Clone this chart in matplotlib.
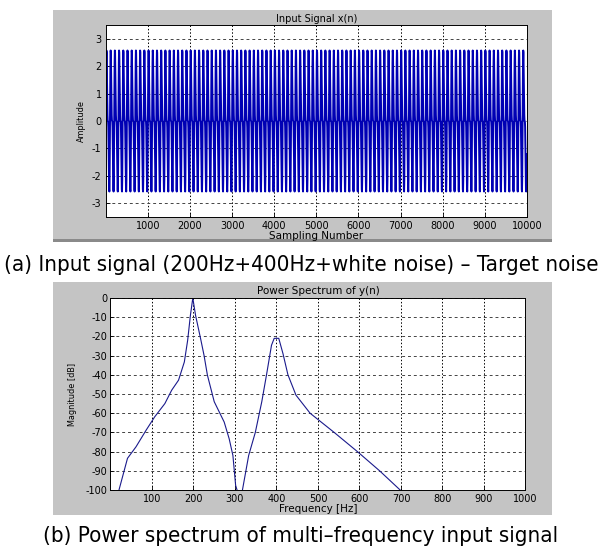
import numpy as np
import matplotlib
matplotlib.use("Agg")
import matplotlib.pyplot as plt
from matplotlib.patches import Rectangle

plt.rcParams["axes.unicode_minus"] = False

# one period of x(n) (200Hz + 400Hz tone)
period_vals = [0.00, 1.21, 2.13, 2.57, 2.49, 2.00, 1.31, 0.67, 0.22, 0.03,
               0.00, -0.03, -0.22, -0.67, -1.31, -2.00, -2.49, -2.57, -2.13, -1.21]
n_periods = 100
n_samples = 10000

# power spectrum of y(n)
spec_freq_1 = [20.5, 41, 61.5, 86, 106.5, 131, 147.5, 164, 178, 186, 192.6, 198.4,
               205, 217, 225.4, 233.6, 250, 274, 286, 295, 301.6, 305]
spec_db_1 = [-100, -83.5, -77.5, -68.8, -61.9, -55, -48, -42.8, -33.3, -22, -9, 0,
             -9, -21, -29.8, -40.2, -54, -64.6, -73.3, -82, -97.6, -100]
spec_freq_2 = [318, 333, 349, 364.6, 376, 388, 394.5, 405.5, 415.7, 427.6, 447, 481,
               539, 595, 648.5, 698]
spec_db_2 = [-100, -82, -70, -54, -40, -24.6, -21, -21, -29, -40, -50.6, -60,
             -70, -80, -90, -100]

top_xticks = [1000, 2000, 3000, 4000, 5000, 6000, 7000, 8000, 9000, 10000]
top_yticks = [-3, -2, -1, 0, 1, 2, 3]
bot_xticks = [100, 200, 300, 400, 500, 600, 700, 800, 900, 1000]
bot_yticks = [-100, -90, -80, -70, -60, -50, -40, -30, -20, -10, 0]

cap_a = "(a) Input signal (200Hz+400Hz+white noise) \u2013 Target noise"
cap_b = "(b) Power spectrum of multi\u2013frequency input signal"

panel_gray = "#c4c4c4"
small = 7

fig = plt.figure(figsize=(6.07, 5.53), dpi=100)
fig.patch.set_facecolor("white")

# gray panels behind each plot
fig.patches.append(Rectangle((0.0873, 0.5624), 0.8227, 0.4195, transform=fig.transFigure,
                             facecolor=panel_gray, edgecolor="none", zorder=-2))
fig.patches.append(Rectangle((0.0873, 0.5624), 0.8227, 0.005, transform=fig.transFigure,
                             facecolor="#8a8a8a", edgecolor="none", zorder=-2))
fig.patches.append(Rectangle((0.0873, 0.0687), 0.8227, 0.4213, transform=fig.transFigure,
                             facecolor=panel_gray, edgecolor="none", zorder=-2))


def style_axes(ax):
    ax.tick_params(direction="in", length=3, width=0.6, labelsize=small, pad=3)
    for s in ax.spines.values():
        s.set_linewidth(0.7)
    ax.xaxis.grid(True, linestyle=(0, (1.5, 2)), color="black", linewidth=0.7)
    ax.yaxis.grid(True, linestyle=(0, (3, 3)), color="#444444", linewidth=0.7)
    ax.set_axisbelow(True)


# top: input signal
ax1 = fig.add_axes([0.1743, 0.6076, 0.6936, 0.3472])
sig = np.tile(period_vals, n_periods)
n = np.arange(len(sig)) * (n_samples / len(sig))
ax1.plot(n, sig, color="#0000b4", linewidth=1.4)
ax1.set_xlim(0, n_samples)
ax1.set_ylim(-3.5, 3.5)
ax1.set_xticks(top_xticks)
ax1.set_yticks(top_yticks)
style_axes(ax1)
ax1.set_title("Input Signal x(n)", fontsize=small, pad=2.5)
ax1.set_xlabel("Sampling Number", fontsize=7.5, labelpad=0)
ax1.set_ylabel("Amplitude", fontsize=6.5, fontstretch="condensed", labelpad=4)

# bottom: power spectrum
ax2 = fig.add_axes([0.1820, 0.1139, 0.6837, 0.3472])
ax2.plot(spec_freq_1, spec_db_1, color="#1a1a8c", linewidth=0.8)
ax2.plot(spec_freq_2, spec_db_2, color="#1a1a8c", linewidth=0.8)
ax2.set_xlim(0, 1000)
ax2.set_ylim(-100, 0)
ax2.set_xticks(bot_xticks)
ax2.set_yticks(bot_yticks)
style_axes(ax2)
ax2.tick_params(axis="y", pad=2)
ax2.set_title("Power Spectrum of y(n)", fontsize=7.5, pad=3)
ax2.set_xlabel("Frequency [Hz]", fontsize=7.5, labelpad=0)
ax2.set_ylabel("Magnitude [dB]", fontsize=6.5, fontstretch="condensed", labelpad=6)

fig.text(0.006, 1 - 265 / 553, cap_a, fontsize=16, va="center", ha="left",
         family="DejaVu Sans", fontstretch="condensed")
fig.text(0.071, 1 - 536 / 553, cap_b, fontsize=16, va="center", ha="left",
         family="DejaVu Sans", fontstretch="condensed")

fig.savefig("out.png", dpi=100)
